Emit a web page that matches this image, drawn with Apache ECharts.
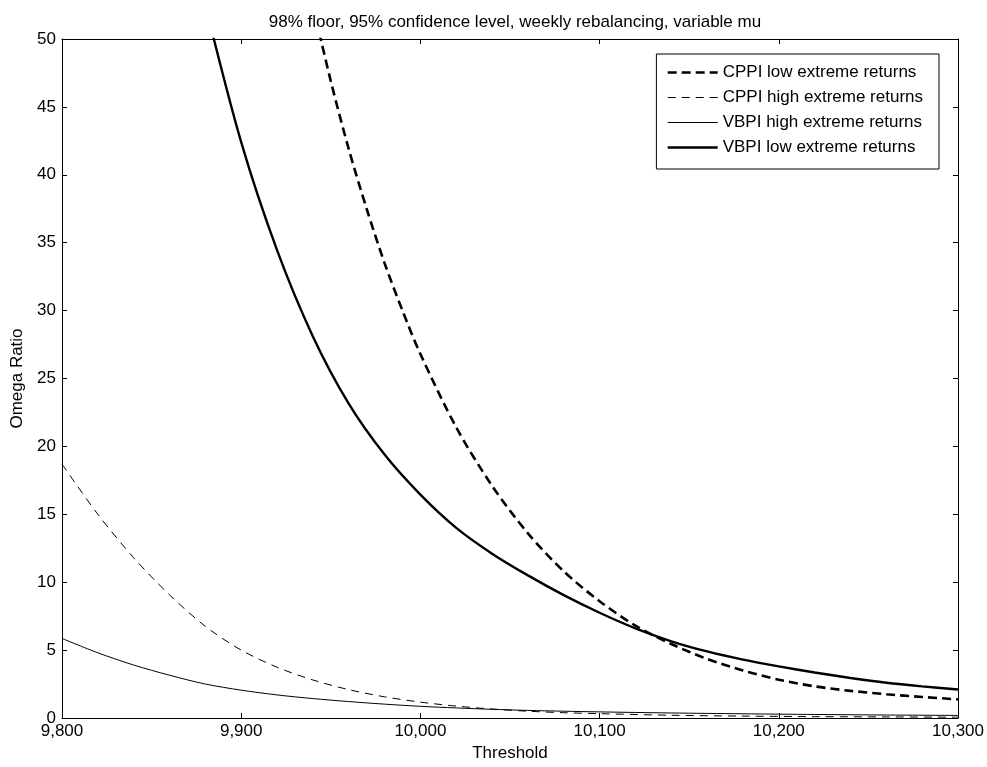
<!DOCTYPE html>
<html>
<head>
<meta charset="utf-8">
<script src="https://cdn.jsdelivr.net/npm/echarts@6/dist/echarts.min.js"></script>
<style>html,body{margin:0;padding:0;background:#fff;}#chart{width:987px;height:767px;}</style>
</head>
<body>
<div id="chart"></div>
<script>
// ---- data ----
const titleText = '98% floor, 95% confidence level, weekly rebalancing, variable mu';
const xTicks = [9800, 9900, 10000, 10100, 10200, 10300];
const yTicks = [0, 5, 10, 15, 20, 25, 30, 35, 40, 45, 50];

const seriesNames = ['CPPI low extreme returns', 'CPPI high extreme returns', 'VBPI high extreme returns', 'VBPI low extreme returns'];

const cppiLowX = [9940, 9950, 9960, 9970, 9980, 9990, 10000, 10020, 10040, 10060, 10080, 10100, 10120, 10140, 10160, 10180, 10200, 10220, 10240, 10260, 10280, 10300];
const cppiLowY = [52.5, 46.9, 41.9, 37.5, 33.5, 30.0, 26.8, 21.4, 17.1, 13.6, 10.8, 8.6, 6.8, 5.45, 4.35, 3.5, 2.82, 2.33, 2.0, 1.75, 1.55, 1.37];

const cppiHighX = [9800, 9820, 9840, 9860, 9880, 9900, 9920, 9940, 9960, 9980, 10000, 10020, 10040, 10060, 10080, 10100, 10140, 10180, 10220, 10260, 10300];
const cppiHighY = [18.7, 15.0, 11.8, 9.07, 6.75, 5.0, 3.74, 2.8, 2.09, 1.56, 1.17, 0.875, 0.66, 0.5, 0.39, 0.32, 0.2, 0.14, 0.1, 0.08, 0.06];

const vbpiHighX = [9800, 9820, 9840, 9860, 9880, 9900, 9920, 9940, 9960, 9980, 10000, 10020, 10040, 10060, 10080, 10100, 10140, 10180, 10220, 10260, 10300];
const vbpiHighY = [5.86, 4.8, 3.9, 3.15, 2.5, 2.05, 1.7, 1.43, 1.21, 1.02, 0.86, 0.74, 0.64, 0.56, 0.5, 0.45, 0.37, 0.31, 0.26, 0.22, 0.19];

const vbpiLowX = [9880, 9900, 9920, 9940, 9960, 9980, 10000, 10020, 10040, 10060, 10080, 10100, 10120, 10140, 10160, 10180, 10200, 10220, 10240, 10260, 10280, 10300];
const vbpiLowY = [52.5, 42.4, 34.45, 28.1, 23.15, 19.4, 16.45, 14.0, 12.1, 10.5, 9.05, 7.75, 6.6, 5.65, 4.9, 4.3, 3.8, 3.35, 2.95, 2.6, 2.33, 2.1];

// ---- build ----
function pairs(xs, ys) { return xs.map((x, i) => [x, ys[i]]); }
const FONT = 'Liberation Sans, Arial, sans-serif';
const fmtX = v => v.toLocaleString('en-US');

const styles = [
  { width: 2.6, type: [9, 5] },
  { width: 1, type: [8, 6] },
  { width: 1, type: 'solid' },
  { width: 2.4, type: 'solid' }
];

const chart = echarts.init(document.getElementById('chart'));
const axisCommon = {
  axisLine: { show: true, onZero: false, lineStyle: { color: '#000', width: 1 } },
  axisTick: { show: true, inside: true, length: 5, lineStyle: { color: '#000' } },
  splitLine: { show: false }
};
function line(i, xs, ys) {
  return {
    name: seriesNames[i], type: 'line', xAxisIndex: 0, yAxisIndex: 0,
    data: pairs(xs, ys), smooth: 0.3, showSymbol: false, symbol: 'none',
    clip: true, animation: false,
    lineStyle: { color: '#000', width: styles[i].width, type: styles[i].type },
    itemStyle: { color: '#000' }
  };
}
const option = {
  backgroundColor: '#fff',
  animation: false,
  title: {
    text: titleText, left: 510, top: 9, textAlign: 'center',
    textStyle: { fontFamily: FONT, fontSize: 17, fontWeight: 'normal', color: '#000' }
  },
  grid: { left: 62, right: 29, top: 39, bottom: 49, containLabel: false },
  legend: {
    orient: 'vertical', right: 48, top: 54,
    backgroundColor: '#fff', borderColor: '#000', borderWidth: 1,
    padding: [10, 16, 13, 10], itemGap: 8, itemWidth: 50, itemHeight: 14,
    itemStyle: { opacity: 0 },
    textStyle: { fontFamily: FONT, fontSize: 17, color: '#000' },
    data: seriesNames.map((n, i) => ({
      name: n,
      itemStyle: { opacity: 0 },
      lineStyle: { color: '#000', width: styles[i].width, type: styles[i].type }
    }))
  },
  xAxis: [
    Object.assign({}, axisCommon, {
      type: 'value', min: xTicks[0], max: xTicks[xTicks.length - 1], interval: 100,
      position: 'bottom',
      name: 'Threshold', nameLocation: 'middle', nameGap: 22,
      nameTextStyle: { fontFamily: FONT, fontSize: 17, color: '#000' },
      axisLabel: { formatter: fmtX, fontFamily: FONT, fontSize: 17, color: '#000', margin: 5 }
    }),
    Object.assign({}, axisCommon, {
      type: 'value', min: xTicks[0], max: xTicks[xTicks.length - 1], interval: 100,
      position: 'top', axisLabel: { show: false }
    })
  ],
  yAxis: [
    Object.assign({}, axisCommon, {
      type: 'value', min: yTicks[0], max: yTicks[yTicks.length - 1], interval: 5,
      position: 'left',
      name: 'Omega Ratio', nameLocation: 'middle', nameGap: 36,
      nameTextStyle: { fontFamily: FONT, fontSize: 17, color: '#000' },
      axisLabel: { fontFamily: FONT, fontSize: 17, color: '#000', margin: 6 }
    }),
    Object.assign({}, axisCommon, {
      type: 'value', min: yTicks[0], max: yTicks[yTicks.length - 1], interval: 5,
      position: 'right', axisLabel: { show: false }
    })
  ],
  series: [
    line(0, cppiLowX, cppiLowY),
    line(1, cppiHighX, cppiHighY),
    line(2, vbpiHighX, vbpiHighY),
    line(3, vbpiLowX, vbpiLowY)
  ]
};
chart.setOption(option);
</script>
</body>
</html>
